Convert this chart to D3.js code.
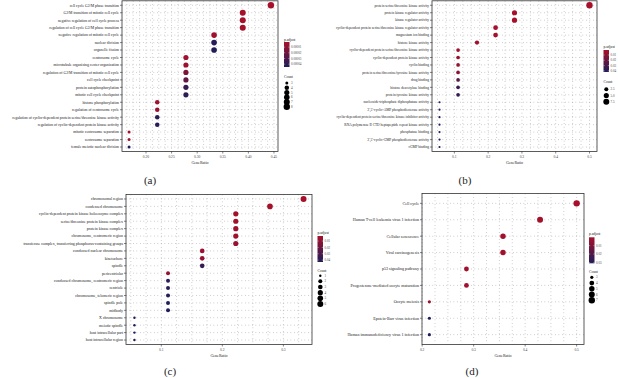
<!DOCTYPE html>
<html>
<head>
<meta charset="utf-8">
<script src="https://cdn.jsdelivr.net/npm/d3@7"></script>
<style>
  body { margin: 0; background: #fff; }
  svg { display: block; font-family: "Liberation Serif", "DejaVu Serif", serif; }
</style>
</head>
<body>
<svg id="chart" width="618" height="378"></svg>
<script>
// ---- panel (a): GO biological process
const aTerms = [
  "cell cycle G2/M phase transition",
  "G2/M transition of mitotic cell cycle",
  "negative regulation of cell cycle process",
  "regulation of cell cycle G2/M phase transition",
  "negative regulation of mitotic cell cycle",
  "nuclear division",
  "organelle fission",
  "centrosome cycle",
  "microtubule organizing center organization",
  "regulation of G2/M transition of mitotic cell cycle",
  "cell cycle checkpoint",
  "protein autophosphorylation",
  "mitotic cell cycle checkpoint",
  "histone phosphorylation",
  "regulation of centrosome cycle",
  "regulation of cyclin-dependent protein serine/threonine kinase activity",
  "regulation of cyclin-dependent protein kinase activity",
  "mitotic centrosome separation",
  "centrosome separation",
  "female meiotic nuclear division"
];
const aCount = [8, 7, 7, 7, 6, 6, 6, 5, 5, 5, 5, 5, 5, 4, 4, 4, 4, 3, 3, 3];
const aRatio = [0.444, 0.389, 0.389, 0.389, 0.333, 0.333, 0.333, 0.278, 0.278, 0.278, 0.278, 0.278, 0.278,
  0.222, 0.222, 0.222, 0.222, 0.167, 0.167, 0.167];
const aPadj = [0.000001, 0.000002, 0.000002, 0.000003, 0.000004, 0.000043, 0.000044, 0.000004, 0.000005,
  0.000015, 0.000024, 0.000038, 0.000040, 0.000004, 0.000006, 0.000041, 0.000042, 0.000003, 0.000005, 0.000045];
const aXTicks = [0.20, 0.25, 0.30, 0.35, 0.40, 0.45];
const aPTicks = [0.00001, 0.00002, 0.00003, 0.00004];
const aCountTicks = [3, 4, 5, 6, 7, 8];

// ---- panel (b): GO molecular function
const bTerms = [
  "protein serine/threonine kinase activity",
  "protein kinase regulator activity",
  "kinase regulator activity",
  "cyclin-dependent protein serine/threonine kinase regulator activity",
  "magnesium ion binding",
  "histone kinase activity",
  "cyclin-dependent protein serine/threonine kinase activity",
  "cyclin-dependent protein kinase activity",
  "cyclin binding",
  "protein serine/threonine/tyrosine kinase activity",
  "drug binding",
  "histone deacetylase binding",
  "protein tyrosine kinase activity",
  "nucleoside-triphosphate diphosphatase activity",
  "3',5'-cyclic-AMP phosphodiesterase activity",
  "cyclin-dependent protein serine/threonine kinase inhibitor activity",
  "RNA polymerase II CTD heptapeptide repeat kinase activity",
  "phosphatase binding",
  "3',5'-cyclic-GMP phosphodiesterase activity",
  "cGMP binding"
];
const bCount = [9, 5, 5, 4, 4, 3, 2, 2, 2, 2, 2, 2, 2, 1, 1, 1, 1, 1, 1, 1];
const bRatio = [0.5, 0.278, 0.278, 0.222, 0.222, 0.167, 0.111, 0.111, 0.111, 0.111, 0.111, 0.111, 0.111,
  0.056, 0.056, 0.056, 0.056, 0.056, 0.056, 0.056];
const bPadj = [0.0006, 0.001, 0.0012, 0.0014, 0.0016, 0.002, 0.004, 0.005, 0.006, 0.008, 0.024, 0.034, 0.036,
  0.040, 0.041, 0.041, 0.042, 0.042, 0.042, 0.042];
const bXTicks = [0.1, 0.2, 0.3, 0.4, 0.5];
const bPTicks = [0.01, 0.02, 0.03, 0.04];
const bCountTicks = [2.5, 5.0, 7.5];

// ---- panel (c): GO cellular component
const cTerms = [
  "chromosomal region",
  "condensed chromosome",
  "cyclin-dependent protein kinase holoenzyme complex",
  "serine/threonine protein kinase complex",
  "protein kinase complex",
  "chromosome, centromeric region",
  "transferase complex, transferring phosphorus-containing groups",
  "condensed nuclear chromosome",
  "kinetochore",
  "spindle",
  "pericentriolar",
  "condensed chromosome, centromeric region",
  "centriole",
  "chromosome, telomeric region",
  "spindle pole",
  "midbody",
  "X chromosome",
  "meiotic spindle",
  "host intracellular part",
  "host intracellular region"
];
const cCount = [6, 5, 4, 4, 4, 4, 4, 3, 3, 3, 2, 2, 2, 2, 2, 2, 1, 1, 1, 1];
const cRatio = [0.333, 0.278, 0.222, 0.222, 0.222, 0.222, 0.222, 0.167, 0.167, 0.167,
  0.111, 0.111, 0.111, 0.111, 0.111, 0.111, 0.056, 0.056, 0.056, 0.056];
const cPadj = [0.002, 0.003, 0.004, 0.004, 0.005, 0.005, 0.006, 0.006, 0.007, 0.036, 0.008, 0.040, 0.041,
  0.041, 0.042, 0.042, 0.043, 0.043, 0.043, 0.043];
const cXTicks = [0.1, 0.2, 0.3];
const cPTicks = [0.01, 0.02, 0.03, 0.04];
const cCountTicks = [1, 2, 3, 4, 5, 6];

// ---- panel (d): KEGG
const dTerms = [
  "Cell cycle",
  "Human T-cell leukemia virus 1 infection",
  "Cellular senescence",
  "Viral carcinogenesis",
  "p53 signaling pathway",
  "Progesterone-mediated oocyte maturation",
  "Oocyte meiosis",
  "Epstein-Barr virus infection",
  "Human immunodeficiency virus 1 infection"
];
const dCount = [7, 6, 5, 5, 4, 4, 3, 3, 3];
const dRatio = [0.5, 0.429, 0.357, 0.357, 0.286, 0.286, 0.214, 0.214, 0.214];
const dPadj = [0.0001, 0.0008, 0.0012, 0.0015, 0.0016, 0.0018, 0.004, 0.031, 0.031];
const dXTicks = [0.2, 0.3, 0.4, 0.5];
const dPTicks = [0.01, 0.02, 0.03];
const dCountTicks = [3, 4, 5, 6, 7];

const lowColor = "#a8102a";
const highColor = "#1e1d5a";

const svg = d3.select("#chart");
const defs = svg.append("defs");

function drawPanel(cfg) {
    const g = svg.append("g");
    const box = cfg.box;

    // ggplot-style 5% expansion of the gene ratio range
    const ext = d3.extent(cfg.ratio);
    const pad = (ext[1] - ext[0]) * 0.05;
    const x = d3.scaleLinear()
        .domain([ext[0] - pad, ext[1] + pad])
        .range([box.l, box.r]);

    const y = d3.scalePoint()
        .domain(cfg.terms)
        .range([box.t, box.b])
        .padding(0.6);

    const pExt = d3.extent(cfg.padj);
    const color = d3.scaleLinear()
        .domain(pExt)
        .range([lowColor, highColor])
        .interpolate(d3.interpolateRgb);

    const cExt = d3.extent(cfg.count);
    const rLin = d3.scaleLinear().domain([0, 1]).range(cfg.rRange);
    const radius = c => rLin(Math.sqrt((c - cExt[0]) / (cExt[1] - cExt[0])));

    // dotted grid
    const step = cfg.xTicks[1] - cfg.xTicks[0];
    const gridX = [];
    for (let v = cfg.xTicks[0] - step; v <= x.domain()[1] + 1e-9; v += step / 4) {
        if (v >= x.domain()[0]) gridX.push(v);
    }
    g.append("g")
        .attr("stroke", "#8a8a8a")
        .attr("stroke-width", 0.6)
        .attr("stroke-dasharray", "0.7,2.8")
        .selectAll("line")
        .data(gridX)
        .join("line")
        .attr("x1", d => x(d)).attr("x2", d => x(d))
        .attr("y1", box.t).attr("y2", box.b);
    g.append("g")
        .attr("stroke", "#8a8a8a")
        .attr("stroke-width", 0.6)
        .attr("stroke-dasharray", "0.7,2.8")
        .selectAll("line")
        .data(cfg.terms)
        .join("line")
        .attr("x1", box.l).attr("x2", box.r)
        .attr("y1", d => y(d)).attr("y2", d => y(d));

    // frame
    g.append("rect")
        .attr("x", box.l).attr("y", box.t)
        .attr("width", box.r - box.l).attr("height", box.b - box.t)
        .attr("fill", "none")
        .attr("stroke", "#333")
        .attr("stroke-width", 0.8);

    // x axis
    const xAxis = g.append("g").attr("transform", `translate(0,${box.b})`);
    xAxis.selectAll("line")
        .data(cfg.xTicks)
        .join("line")
        .attr("x1", d => x(d)).attr("x2", d => x(d))
        .attr("y1", 0).attr("y2", 2)
        .attr("stroke", "#333").attr("stroke-width", 0.6);
    xAxis.selectAll("text")
        .data(cfg.xTicks)
        .join("text")
        .attr("x", d => x(d))
        .attr("y", 6.5)
        .attr("text-anchor", "middle")
        .style("font-size", "3.6px")
        .attr("fill", "#444")
        .text(d => d.toFixed(cfg.tickDigits));
    g.append("text")
        .attr("x", (box.l + box.r) / 2)
        .attr("y", box.b + 12)
        .attr("text-anchor", "middle")
        .style("font-size", "4px")
        .attr("fill", "#222")
        .text("GeneRatio");

    // y axis
    const yAxis = g.append("g");
    yAxis.selectAll("line")
        .data(cfg.terms)
        .join("line")
        .attr("x1", box.l - 2).attr("x2", box.l)
        .attr("y1", d => y(d)).attr("y2", d => y(d))
        .attr("stroke", "#333").attr("stroke-width", 0.6);
    yAxis.selectAll("text")
        .data(cfg.terms)
        .join("text")
        .attr("x", box.l - 3)
        .attr("y", d => y(d))
        .attr("dy", "0.35em")
        .attr("text-anchor", "end")
        .style("font-size", cfg.fontSize + "px")
        .attr("fill", "#1a1a1a")
        .text(d => d);

    // dots
    g.append("g")
        .selectAll("circle")
        .data(cfg.terms.map((t, i) => ({ t: t, r: cfg.ratio[i], c: cfg.count[i], p: cfg.padj[i] })))
        .join("circle")
        .attr("cx", d => x(d.r))
        .attr("cy", d => y(d.t))
        .attr("r", d => radius(d.c))
        .attr("fill", d => color(d.p));

    // panel label
    g.append("text")
        .attr("x", cfg.label[1])
        .attr("y", cfg.label[2])
        .attr("text-anchor", "middle")
        .style("font-size", "11px")
        .attr("fill", "#222")
        .text(cfg.label[0]);

    // colour legend
    const L = cfg.legend;
    g.append("text")
        .attr("x", L.x).attr("y", L.titleY)
        .style("font-size", "3.6px")
        .attr("fill", "#222")
        .text("p.adjust");
    const gradId = "grad" + cfg.label[0].replace(/[()]/g, "");
    const grad = defs.append("linearGradient")
        .attr("id", gradId)
        .attr("x1", 0).attr("y1", 0).attr("x2", 0).attr("y2", 1);
    grad.append("stop").attr("offset", "0%").attr("stop-color", lowColor);
    grad.append("stop").attr("offset", "100%").attr("stop-color", highColor);
    g.append("rect")
        .attr("x", L.x).attr("y", L.barTop)
        .attr("width", 5.5).attr("height", L.barBottom - L.barTop)
        .attr("fill", `url(#${gradId})`);
    const py = d3.scaleLinear().domain(pExt).range([L.barTop, L.barBottom]);
    const pt = cfg.pTicks.filter(v => v >= pExt[0] && v <= pExt[1]);
    g.append("g").selectAll("line")
        .data(pt)
        .join("line")
        .attr("x1", L.x).attr("x2", L.x + 1.2)
        .attr("y1", d => py(d)).attr("y2", d => py(d))
        .attr("stroke", "#fff").attr("stroke-width", 0.4);
    g.append("g").selectAll("line")
        .data(pt)
        .join("line")
        .attr("x1", L.x + 4.3).attr("x2", L.x + 5.5)
        .attr("y1", d => py(d)).attr("y2", d => py(d))
        .attr("stroke", "#fff").attr("stroke-width", 0.4);
    g.append("g").selectAll("text")
        .data(pt)
        .join("text")
        .attr("x", L.x + 7)
        .attr("y", d => py(d))
        .attr("dy", "0.35em")
        .style("font-size", "3.2px")
        .attr("fill", "#444")
        .text(d => d.toFixed(cfg.pDigits));

    // size legend
    g.append("text")
        .attr("x", L.x).attr("y", L.countTitleY)
        .style("font-size", "3.6px")
        .attr("fill", "#222")
        .text("Count");
    const sy = d3.scalePoint()
        .domain(cfg.countTicks)
        .range([L.countTop, L.countBottom]);
    g.append("g").selectAll("circle")
        .data(cfg.countTicks)
        .join("circle")
        .attr("cx", L.x + 2.8)
        .attr("cy", d => sy(d))
        .attr("r", d => radius(d))
        .attr("fill", "#000");
    g.append("g").selectAll("text")
        .data(cfg.countTicks)
        .join("text")
        .attr("x", L.x + 7)
        .attr("y", d => sy(d))
        .attr("dy", "0.35em")
        .style("font-size", "3.2px")
        .attr("fill", "#444")
        .text(d => cfg.countDigits ? d.toFixed(cfg.countDigits) : d);
}

drawPanel({
    terms: aTerms, ratio: aRatio, count: aCount, padj: aPadj,
    box: { l: 122, r: 278, t: 0.8, b: 151.5 },
    xTicks: aXTicks, tickDigits: 2, fontSize: 3.8, rRange: [1.5, 3.2],
    label: ["(a)", 150, 184],
    pTicks: aPTicks, pDigits: 5, countTicks: aCountTicks,
    legend: { x: 284, titleY: 40.5, barTop: 42, barBottom: 67, countTitleY: 77.5, countTop: 83, countBottom: 106.7 }
});

drawPanel({
    terms: bTerms, ratio: bRatio, count: bCount, padj: bPadj,
    box: { l: 432, r: 597, t: 0.8, b: 151.5 },
    xTicks: bXTicks, tickDigits: 1, fontSize: 3.5, rRange: [1.1, 3.2],
    label: ["(b)", 465, 184],
    pTicks: bPTicks, pDigits: 2, countTicks: bCountTicks, countDigits: 1,
    legend: { x: 603.5, titleY: 48, barTop: 50, barBottom: 72, countTitleY: 83, countTop: 89.3, countBottom: 101.7 }
});

drawPanel({
    terms: cTerms, ratio: cRatio, count: cCount, padj: cPadj,
    box: { l: 126, r: 312, t: 194.5, b: 344.5 },
    xTicks: cXTicks, tickDigits: 1, fontSize: 3.9, rRange: [1.2, 3.0],
    label: ["(c)", 170, 375],
    pTicks: cPTicks, pDigits: 2, countTicks: cCountTicks,
    legend: { x: 317.5, titleY: 233.5, barTop: 236, barBottom: 262, countTitleY: 272, countTop: 275.7, countBottom: 304 }
});

drawPanel({
    terms: dTerms, ratio: dRatio, count: dCount, padj: dPadj,
    box: { l: 422, r: 584, t: 193.5, b: 344.5 },
    xTicks: dXTicks, tickDigits: 1, fontSize: 4.1, rRange: [1.6, 3.2],
    label: ["(d)", 472, 375],
    pTicks: dPTicks, pDigits: 2, countTicks: dCountTicks,
    legend: { x: 589, titleY: 235, barTop: 237.3, barBottom: 263.3, countTitleY: 272.5, countTop: 277.3, countBottom: 300.3 }
});
</script>
</body>
</html>
